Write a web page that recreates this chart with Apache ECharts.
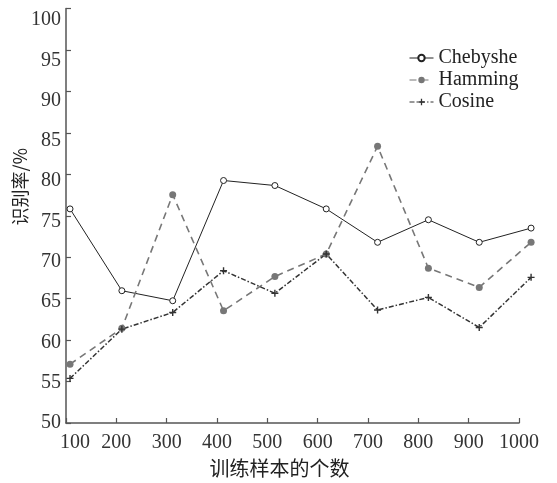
<!DOCTYPE html>
<html><head><meta charset="utf-8">
<script src="https://cdn.jsdelivr.net/npm/echarts@6/dist/echarts.min.js"></script>
<style>html,body{margin:0;padding:0;background:#fff}#c{width:557px;height:483px}</style>
</head><body><div id="c"></div>
<script>
const seriesNames = ['Chebyshe', 'Hamming', 'Cosine'];
const sampleCounts = [108, 211, 312, 413, 515, 617, 719, 820, 921, 1024];
const chebyshe = [76.0, 66.2, 65.0, 79.4, 78.8, 76.0, 72.0, 74.7, 72.0, 73.7];
const hamming  = [57.4, 61.7, 77.7, 63.8, 67.9, 70.6, 83.5, 68.9, 66.6, 72.0];
const cosine   = [55.7, 61.6, 63.6, 68.6, 65.9, 70.6, 63.9, 65.4, 61.8, 67.8];
const xTicks = [100, 200, 300, 400, 500, 600, 700, 800, 900, 1000];
const yTicks = [50, 55, 60, 65, 70, 75, 80, 85, 90, 95, 100];

const serif = '"Liberation Serif", "DejaVu Serif", serif';
const cjk = '"Noto Sans CJK SC", sans-serif';
const pair = arr => sampleCounts.map((x, i) => [x, arr[i]]);

// layout
const W = 557, gLeft = 66, gRightAxis = 38, gRightData = 18, gTop = 8.5, gBottom = 57;
const xMin = xTicks[0], xMax = xTicks[xTicks.length - 1];
const axisW = W - gLeft - gRightAxis, dataW = W - gLeft - gRightData;
const dataXMax = xMin + dataW * (xMax - xMin) / axisW;

const chart = echarts.init(document.getElementById('c'));
chart.setOption({
  animation: false,
  backgroundColor: '#fff',
  grid: [
    { left: gLeft, right: gRightData, top: gTop, bottom: gBottom },
    { left: gLeft, right: gRightAxis, top: gTop, bottom: gBottom }
  ],
  legend: {
    left: 404, top: 43, orient: 'vertical', itemGap: 2, itemWidth: 24, itemHeight: 8,
    lineStyle: { width: 1 },
    textStyle: { fontFamily: serif, fontSize: 20, color: '#222', lineHeight: 20 },
    data: seriesNames
  },
  xAxis: [{
    gridIndex: 0, type: 'value', min: xMin, max: dataXMax, show: false
  }, {
    gridIndex: 1, type: 'value', min: xMin, max: xMax, interval: 100,
    name: '训练样本的个数', nameLocation: 'middle', nameGap: 35,
    nameTextStyle: { fontFamily: cjk, fontSize: 20, color: '#222', padding: [0, 26, 0, 0] },
    axisLine: { lineStyle: { color: '#555', width: 1.5 } },
    axisTick: { inside: true, length: 5, lineStyle: { color: '#555', width: 1.2 } },
    axisLabel: {
      margin: 10, fontFamily: serif, fontSize: 20, color: '#333',
      formatter: v => v === 100 ? '{a|100}' : String(v),
      rich: { a: { fontFamily: serif, fontSize: 20, color: '#333', padding: [0, 0, 0, 18] } }
    },
    splitLine: { show: false }
  }],
  yAxis: [{
    gridIndex: 0, type: 'value', min: yTicks[0], max: yTicks[yTicks.length - 1], show: false
  }, {
    gridIndex: 1, type: 'value', min: yTicks[0], max: yTicks[yTicks.length - 1], interval: 5,
    name: '识别率/%', nameLocation: 'middle', nameRotate: 90, nameGap: 37,
    nameTextStyle: { fontFamily: cjk, fontSize: 18, color: '#222', padding: [0, 0, 0, 58] },
    axisLine: { show: true, lineStyle: { color: '#555', width: 1.5 } },
    axisTick: { show: true, inside: true, length: 5, lineStyle: { color: '#555', width: 1.2 } },
    axisLabel: { show: false },
    splitLine: { show: false }
  }, {
    gridIndex: 1, type: 'value', min: 50, max: 101.42, interval: 5, position: 'left',
    axisLine: { show: false }, axisTick: { show: false }, splitLine: { show: false },
    axisLabel: {
      margin: 5, fontFamily: serif, fontSize: 20, color: '#333', padding: [6, 0, 0, 0],
      formatter: v => (yTicks.indexOf(Math.round(v * 100) / 100) >= 0 ? String(v) : '')
    }
  }],
  series: [
    {
      name: seriesNames[0], type: 'line', xAxisIndex: 0, yAxisIndex: 0, data: pair(chebyshe),
      symbol: 'circle', symbolSize: 6,
      lineStyle: { color: '#222', width: 1 },
      itemStyle: { color: '#fff', borderColor: '#222', borderWidth: 1 }
    },
    {
      name: seriesNames[1], type: 'line', xAxisIndex: 0, yAxisIndex: 0, data: pair(hamming),
      symbol: 'circle', symbolSize: 7,
      lineStyle: { color: '#777', width: 1.6, type: [7, 5] },
      itemStyle: { color: '#777', borderColor: '#777', borderWidth: 0 }
    },
    {
      name: seriesNames[2], type: 'line', xAxisIndex: 0, yAxisIndex: 0, data: pair(cosine),
      symbol: 'path://M4,0h2v4h4v2h-4v4h-2v-4h-4v-2h4z', symbolSize: 7,
      lineStyle: { color: '#333', width: 1.5, type: [5, 2, 1.5, 2] },
      itemStyle: { color: '#333' }
    }
  ]
});
</script>
</body></html>
